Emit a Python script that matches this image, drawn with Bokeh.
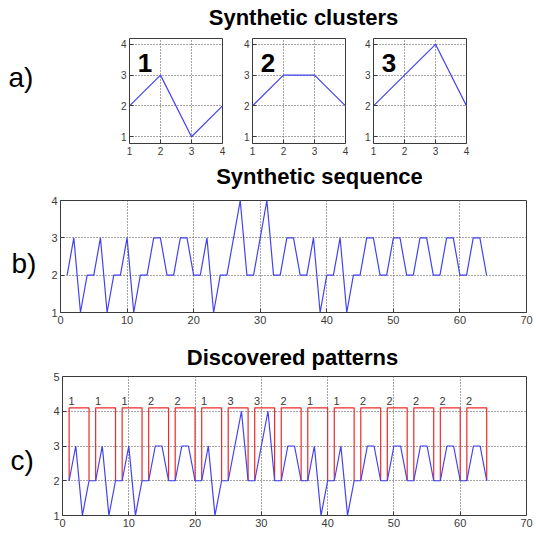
from bokeh.plotting import figure
from bokeh.models import Range1d, Label, ColumnDataSource
from bokeh.layouts import column, row
from bokeh.core.properties import value
from bokeh.embed import file_html
from bokeh.resources import INLINE

# ---------------- data ----------------
cluster_x = [1, 2, 3, 4]
cluster_1 = [2, 3, 1, 2]
cluster_2 = [2, 3, 3, 2]
cluster_3 = [2, 3, 4, 2]
cluster_names = ["1", "2", "3"]

seq_x = list(range(1, 65))
sequence = [2, 3, 1, 2,  2, 3, 1, 2,  2, 3, 1, 2,  2, 3, 3, 2,
            2, 3, 3, 2,  2, 3, 1, 2,  2, 3, 4, 2,  2, 3, 4, 2,
            2, 3, 3, 2,  2, 3, 1, 2,  2, 3, 1, 2,  2, 3, 3, 2,
            2, 3, 3, 2,  2, 3, 3, 2,  2, 3, 3, 2,  2, 3, 3, 2]
pattern_labels = ["1", "1", "1", "2", "2", "1", "3", "3",
                  "2", "1", "1", "2", "2", "2", "2", "2"]
pattern_len = 4
pattern_base = 2
pattern_top = 4.1

seq_xticks = [0, 10, 20, 30, 40, 50, 60, 70]
seq_yticks = [1, 2, 3, 4]
pat_yticks = [1, 2, 3, 4, 5]
clu_ticks = [1, 2, 3, 4]

titles = ["Synthetic clusters", "Synthetic sequence", "Discovered patterns"]
panel_tags = ["a)", "b)", "c)"]

# ---------------- style ----------------
FONT = "Liberation Sans"
BLUE = "#4242f2"
RED = "#ec2a2a"
AXC = "#3a3a3a"
GRID = "#4a4a4a"
TXT = "#3a3a3a"
W = 533


def style(p, xt, yt, fs):
    p.outline_line_color = AXC
    p.outline_line_width = 1
    p.xaxis.ticker = xt
    p.yaxis.ticker = yt
    for ax in (p.xaxis, p.yaxis):
        ax.axis_line_color = None
        ax.major_tick_in = 4
        ax.major_tick_out = 0
        ax.major_tick_line_color = AXC
        ax.minor_tick_line_color = None
        ax.major_label_text_font = FONT
        ax.major_label_text_font_size = fs
        ax.major_label_text_color = TXT
        ax.major_label_standoff = 3
    p.grid.grid_line_color = GRID
    p.grid.grid_line_dash = "1 2"
    p.grid.grid_line_width = 1
    p.background_fill_color = "white"
    p.border_fill_color = "white"


def mk(width, height, xr, yr, left, right, top, bottom):
    return figure(width=width, height=height, x_range=Range1d(*xr), y_range=Range1d(*yr),
                  min_border_left=left, min_border_right=right,
                  min_border_top=top, min_border_bottom=bottom,
                  toolbar_location=None, output_backend="svg")


def text_fig(w, h, x, y, txt, size, bold, align):
    f = figure(width=w, height=h, x_range=Range1d(0, w), y_range=Range1d(0, h),
               min_border_left=0, min_border_right=0, min_border_top=0, min_border_bottom=0,
               x_axis_location=None, y_axis_location=None,
               toolbar_location=None, output_backend="svg")
    f.grid.visible = False
    f.outline_line_color = None
    f.border_fill_color = "white"
    f.background_fill_color = "white"
    src = ColumnDataSource(dict(x=[x], y=[y], t=[txt]))
    f.text(x="x", y="y", text="t", source=src, text_font=value(FONT),
           text_font_size=value(size), text_font_style=value("bold" if bold else "normal"),
           text_align=value(align), text_baseline=value("middle"), text_color="black")
    return f


# ---------------- row 1: cluster panels ----------------
t0 = text_fig(W, 30, 303, 12.7, titles[0], "22px", True, "center")
a_fig = text_fig(114, 127, 8, 79.8, panel_tags[0], "28px", False, "left")

clusters = [cluster_1, cluster_2, cluster_3]
borders = [(15, 15), (15, 13), (15, W - 114 - 123 - 121 - 15 - 93)]
panels = []
for ys, name, (l, r) in zip(clusters, cluster_names, borders):
    p = mk(l + 93 + r, 127, (1, 4), (0.78, 4.19), l, r, 8, 14)
    style(p, clu_ticks, clu_ticks, "10px")
    p.line(cluster_x, ys, line_color=BLUE, line_width=1.2)
    p.add_layout(Label(x=1.5, y=3.38, text=name, text_font=FONT, text_font_size="26px",
                       text_font_style="bold", text_align="center",
                       text_baseline="middle", text_color="black"))
    panels.append(p)

# ---------------- row 2: synthetic sequence ----------------
t1 = text_fig(W, 34, 319, 14.7, titles[1], "22px", True, "center")
b_fig = text_fig(48, 142, 11, 62.5, panel_tags[1], "28px", False, "left")
pm = mk(W - 48, 142, (0, 70), (1, 4), 11, 7, 9, 21)
style(pm, seq_xticks, seq_yticks, "11px")
pm.line(seq_x, sequence, line_color=BLUE, line_width=1.2)

# ---------------- row 3: discovered patterns ----------------
t2 = text_fig(W, 37, 292, 12.7, titles[2], "22px", True, "center")
c_fig = text_fig(50, 163, 10, 65, panel_tags[2], "28px", False, "left")
pb = mk(W - 50, 163, (0, 70), (1, 5), 12, 7, 6, 18)
style(pb, seq_xticks, pat_yticks, "11px")
starts = [i * pattern_len + 1 for i in range(len(pattern_labels))]
ends = [s + pattern_len - 1 for s in starts]
rx = [[s, s, e, e] for s, e in zip(starts, ends)]
ry = [[pattern_base, pattern_top, pattern_top, pattern_base] for _ in starts]
pb.multi_line(rx, ry, line_color=RED, line_width=1.2)
pb.line(seq_x, sequence, line_color=BLUE, line_width=1.2)
lab_src = ColumnDataSource(dict(x=[s + 0.35 for s in starts],
                                y=[pattern_top + 0.2] * len(starts),
                                t=pattern_labels))
pb.text(x="x", y="y", text="t", source=lab_src, text_font=value(FONT),
        text_font_size=value("11px"), text_color=TXT, text_align=value("center"),
        text_baseline=value("middle"))

layout = column(t0, row(a_fig, *panels, spacing=0),
                t1, row(b_fig, pm, spacing=0),
                t2, row(c_fig, pb, spacing=0), spacing=0)
open("out.html", "w").write(file_html(layout, INLINE))
